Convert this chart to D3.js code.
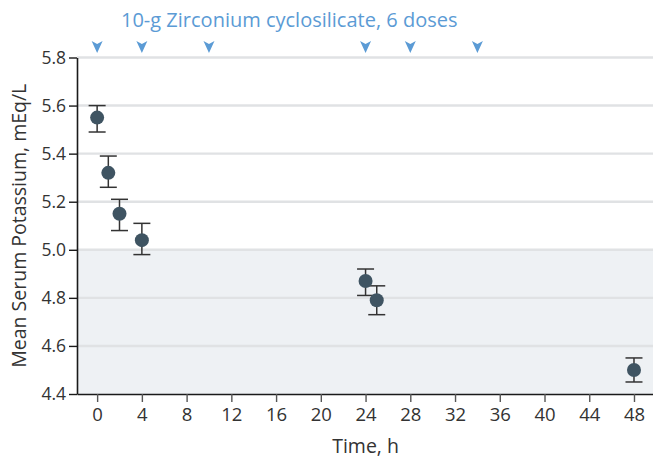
<!DOCTYPE html>
<html>
<head>
<meta charset="utf-8">
<script src="https://cdn.jsdelivr.net/npm/d3@7"></script>
<style>
  body { margin: 0; background: #fff; }
  svg text { font-family: "Open Sans", "Noto Sans", sans-serif; }
</style>
</head>
<body>
<div id="chart"></div>
<script>
// hours after first dose
const times = [0, 1, 2, 4, 24, 25, 48];
const meanK = [5.55, 5.32, 5.15, 5.04, 4.87, 4.79, 4.50];
const lowerK = [5.49, 5.26, 5.08, 4.98, 4.81, 4.73, 4.45];
const upperK = [5.60, 5.39, 5.21, 5.11, 4.92, 4.85, 4.55];
const doseTimes = [0, 4, 10, 24, 28, 34];
const xTicks = [0, 4, 8, 12, 16, 20, 24, 28, 32, 36, 40, 44, 48];
const yTicks = [4.4, 4.6, 4.8, 5.0, 5.2, 5.4, 5.6, 5.8];
const normalLimit = 5.0;

const width = 653, height = 460;

const svg = d3.select("#chart").append("svg")
  .attr("width", width)
  .attr("height", height);

const x = d3.scaleLinear().domain([-1.8, 49.7]).range([77, 653]);
const y = d3.scaleLinear().domain([4.4, 5.8]).range([394, 57.5]);

//shaded band below the upper normal limit
svg.append("rect")
  .attr("x", x.range()[0])
  .attr("y", y(normalLimit))
  .attr("width", x.range()[1] - x.range()[0])
  .attr("height", y(4.4) - y(normalLimit))
  .attr("fill", "#eef1f4");

//horizontal grid
svg.append("g").selectAll("line")
  .data(yTicks.slice(1))
  .enter().append("line")
  .attr("x1", x.range()[0])
  .attr("x2", x.range()[1])
  .attr("y1", d => y(d))
  .attr("y2", d => y(d))
  .attr("stroke", "#e0e2e4")
  .attr("stroke-width", 2.4);

//y axis
const yAxis = svg.append("g")
  .attr("transform", "translate(" + x.range()[0] + ",0)")
  .call(d3.axisLeft(y).tickValues(yTicks).tickFormat(d3.format(".1f")).tickSize(8).tickSizeOuter(0));
yAxis.select(".domain").attr("stroke", "#1a1a1a").attr("stroke-width", 1.6);
yAxis.selectAll(".tick line").attr("stroke", "#1a1a1a").attr("stroke-width", 1.4);
yAxis.selectAll(".tick text")
  .attr("x", -11)
  .attr("fill", "#333")
  .style("font-size", "17.5px");

//x axis
const xAxis = svg.append("g")
  .attr("transform", "translate(0," + y(4.4) + ")")
  .call(d3.axisBottom(x).tickValues(xTicks).tickSize(8).tickSizeOuter(0));
xAxis.select(".domain").attr("stroke", "#1a1a1a").attr("stroke-width", 1.6);
xAxis.selectAll(".tick line").attr("stroke", "#555").attr("stroke-width", 1.4);
xAxis.selectAll(".tick text")
  .attr("y", 14)
  .attr("fill", "#333")
  .style("font-size", "18.5px");

//axis titles
svg.append("text")
  .attr("x", x(24))
  .attr("y", 453)
  .attr("text-anchor", "middle")
  .attr("fill", "#333")
  .style("font-size", "19.5px")
  .text("Time, h");

svg.append("text")
  .attr("transform", "translate(26," + (y(4.4) + y(5.8)) / 2 + ") rotate(-90)")
  .attr("text-anchor", "middle")
  .attr("fill", "#333")
  .style("font-size", "19.5px")
  .text("Mean Serum Potassium, mEq/L");

//dose markers
svg.append("text")
  .attr("x", 121)
  .attr("y", 27)
  .attr("fill", "#5b9bd5")
  .style("font-size", "20px")
  .text("10-g Zirconium cyclosilicate, 6 doses");

svg.append("g").selectAll("path")
  .data(doseTimes)
  .enter().append("path")
  .attr("transform", d => "translate(" + x(d) + ",47)")
  .attr("d", "M-5.5,-6 L0,-3 L5.5,-6 L0,6 Z")
  .attr("fill", "#5b9bd5");

//error bars and means
const pts = times.map((t, i) => ({t: t, m: meanK[i], lo: lowerK[i], hi: upperK[i]}));

const bars = svg.append("g").selectAll("g")
  .data(pts)
  .enter().append("g")
  .attr("stroke", "#333")
  .attr("stroke-width", 1.5);

bars.append("line")
  .attr("x1", d => x(d.t)).attr("x2", d => x(d.t))
  .attr("y1", d => y(d.lo)).attr("y2", d => y(d.hi));
bars.append("line")
  .attr("x1", d => x(d.t) - 8.5).attr("x2", d => x(d.t) + 8.5)
  .attr("y1", d => y(d.hi)).attr("y2", d => y(d.hi));
bars.append("line")
  .attr("x1", d => x(d.t) - 8.5).attr("x2", d => x(d.t) + 8.5)
  .attr("y1", d => y(d.lo)).attr("y2", d => y(d.lo));

svg.append("g").selectAll("circle")
  .data(pts)
  .enter().append("circle")
  .attr("cx", d => x(d.t))
  .attr("cy", d => y(d.m))
  .attr("r", 7)
  .attr("fill", "#3f5462");
</script>
</body>
</html>
